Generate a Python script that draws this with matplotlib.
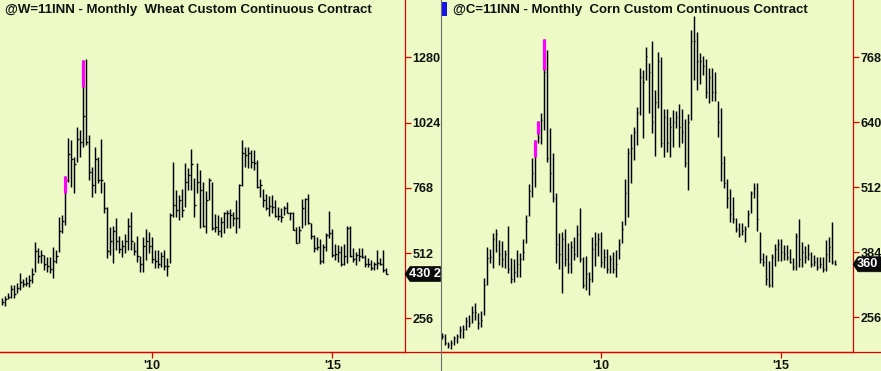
import matplotlib
matplotlib.use('Agg')
import matplotlib.pyplot as plt
import numpy as np
import pandas as pd
from matplotlib.patches import Polygon, Rectangle
from matplotlib.lines import Line2D
from matplotlib.transforms import IdentityTransform

plt.rcParams['font.family'] = ['Liberation Sans', 'DejaVu Sans']

# ---------------- data ----------------
wheat_title = "@W=11INN - Monthly  Wheat Custom Continuous Contract"
corn_title = "@C=11INN - Monthly  Corn Custom Continuous Contract"

wheat_start = '2005-11'
wheat_high = [334, 343, 354, 387, 387, 393, 433, 409, 419, 425, 452, 557, 531, 524, 504, 498, 498, 537, 524, 655,
              662, 815, 963, 956, 890, 1008, 995, 1270, 1273, 976, 851, 930, 890, 959, 792, 694, 616, 618, 649, 579,
              563, 587, 650, 674, 557, 579, 500, 576, 607, 596, 574, 524, 524, 517, 524, 492, 668, 868, 760, 740,
              762, 864, 845, 919, 806, 864, 838, 792, 757, 806, 792, 665, 662, 655, 672, 681, 684, 675, 720, 782,
              956, 930, 930, 917, 917, 877, 803, 762, 743, 736, 740, 720, 694, 688, 697, 711, 675, 675, 616, 620,
              723, 727, 744, 629, 583, 574, 566, 548, 590, 677, 608, 546, 544, 540, 548, 618, 618, 531, 517, 531,
              531, 505, 492, 485, 478, 524, 492, 524, 452]
wheat_low = [308, 304, 331, 335, 337, 354, 367, 378, 383, 378, 393, 439, 472, 472, 446, 439, 433, 413, 472, 517,
             590, 622, 792, 773, 747, 871, 890, 930, 936, 799, 733, 747, 786, 747, 668, 492, 504, 472, 524, 511,
             498, 511, 524, 524, 504, 478, 439, 439, 485, 511, 472, 452, 452, 459, 446, 422, 472, 655, 655, 642,
             655, 694, 760, 760, 655, 747, 609, 616, 592, 720, 603, 596, 583, 576, 590, 612, 612, 618, 592, 612,
             775, 851, 845, 845, 838, 766, 733, 694, 681, 658, 668, 655, 642, 635, 662, 668, 642, 603, 550, 550,
             609, 622, 626, 566, 517, 524, 468, 472, 520, 570, 498, 485, 478, 461, 465, 474, 495, 478, 465, 481,
             492, 459, 456, 446, 446, 448, 465, 439, 430]
wheat_close = [320, 330, 340, 372, 350, 375, 400, 390, 395, 405, 430, 520, 500, 505, 470, 460, 450, 480, 500, 600,
               640, 800, 900, 880, 860, 960, 950, 1050, 950, 830, 780, 880, 800, 800, 690, 520, 560, 600, 560, 530,
               540, 560, 620, 560, 520, 500, 470, 540, 560, 540, 490, 480, 470, 500, 460, 460, 660, 700, 680, 720,
               680, 790, 820, 860, 700, 790, 760, 620, 720, 799, 609, 616, 600, 635, 668, 668, 662, 649, 649, 779,
               904, 897, 904, 871, 867, 773, 779, 720, 688, 697, 694, 658, 658, 655, 688, 668, 668, 603, 553, 603,
               690, 723, 630, 579, 531, 535, 480, 537, 585, 590, 505, 510, 515, 470, 500, 610, 500, 490, 505, 500,
               495, 470, 470, 455, 470, 475, 470, 445, 430]
wheat_mark_months = ['2007-08', '2008-02']
wheat_mark_low = [747, 1165]
wheat_mark_high = [815, 1270]
wheat_last_label = "430 2"

corn_start = '2005-08'
corn_high = [224, 222, 206, 211, 219, 222, 238, 240, 256, 260, 278, 283, 264, 268, 332, 395, 391, 422, 429, 408,
             405, 388, 435, 372, 370, 389, 383, 409, 457, 518, 569, 605, 643, 658, 804, 783, 628, 579, 500, 422,
             424, 429, 401, 406, 413, 437, 470, 375, 376, 345, 414, 424, 422, 424, 391, 391, 378, 385, 388, 409,
             446, 528, 589, 617, 631, 670, 746, 743, 789, 756, 800, 704, 779, 769, 666, 666, 650, 664, 663, 676,
             666, 646, 656, 822, 850, 817, 777, 771, 764, 746, 746, 740, 681, 668, 573, 528, 508, 493, 451, 441,
             441, 435, 466, 505, 521, 521, 424, 383, 378, 367, 380, 400, 409, 409, 398, 398, 391, 372, 421, 449,
             403, 396, 400, 385, 378, 374, 375, 375, 408, 414, 444, 368]
corn_low = [213, 201, 194, 192, 201, 204, 214, 214, 230, 237, 244, 250, 232, 237, 260, 319, 362, 352, 385, 359,
            355, 352, 342, 324, 326, 334, 334, 368, 401, 455, 493, 512, 599, 598, 625, 562, 503, 483, 362, 350,
            303, 357, 343, 343, 368, 375, 365, 313, 309, 299, 326, 357, 376, 354, 352, 343, 342, 343, 334, 370,
            401, 437, 454, 521, 566, 595, 654, 608, 723, 658, 618, 573, 668, 592, 571, 582, 572, 592, 628, 591,
            600, 552, 506, 644, 723, 704, 715, 733, 687, 677, 681, 681, 610, 525, 510, 470, 444, 441, 424, 414,
            418, 404, 433, 462, 490, 426, 363, 357, 319, 316, 316, 357, 367, 367, 368, 368, 362, 349, 349, 355,
            355, 363, 368, 355, 357, 349, 352, 345, 347, 365, 361, 359]
corn_close = [218, 205, 200, 205, 215, 218, 230, 232, 248, 245, 265, 265, 245, 250, 320, 372, 375, 410, 420, 380,
              370, 380, 350, 330, 345, 360, 370, 385, 445, 505, 540, 580, 610, 645, 740, 570, 540, 490, 400, 380,
              410, 370, 360, 395, 380, 420, 370, 320, 340, 330, 390, 400, 410, 365, 375, 350, 370, 350, 360, 400,
              430, 500, 580, 590, 620, 660, 730, 720, 770, 740, 640, 680, 760, 600, 650, 600, 630, 640, 650, 630,
              620, 560, 640, 800, 800, 760, 760, 750, 700, 730, 700, 700, 640, 560, 520, 490, 460, 450, 430, 420,
              425, 430, 460, 500, 510, 450, 370, 365, 330, 320, 375, 390, 400, 385, 380, 375, 365, 355, 415, 370,
              385, 375, 380, 360, 365, 355, 360, 350, 380, 395, 365, 360]
corn_mark_months = ['2008-03', '2008-04', '2008-06']
corn_mark_low = [571, 617, 743]
corn_mark_high = [605, 643, 804]
corn_last_label = "360"

wheat_yticks = [256, 512, 768, 1024, 1280]
corn_yticks = [256, 384, 512, 640, 768]
xtick_years = [2010, 2015]
xtick_labels = ["'10", "'15"]

# ---------------- style ----------------
W, H = 881, 371
BG = '#EDFAC6'
RED = '#E00000'
TXT = '#121212'
LBL = 9.1


def month_index(periods):
    p = pd.PeriodIndex(periods, freq='M')
    return np.asarray((p.year - 2010) * 12 + (p.month - 1), dtype=float)


def series_months(start, n):
    return month_index(pd.period_range(start, periods=n, freq='M'))


fig = plt.figure(figsize=(W / 100, H / 100), dpi=100, facecolor=BG)

BOTTOM = 351.7


def add_ax(x0, x1):
    return fig.add_axes([x0 / W, 1 - BOTTOM / H, (x1 - x0) / W, BOTTOM / H])


def draw_panel(ax, start, hi, lo, cl, mmonths, mlo, mhi, xlim, ylim, yticks):
    ax.set_facecolor(BG)
    x = series_months(start, len(hi))
    ax.vlines(x, lo, hi, color='black', lw=1.05, zorder=3)
    ax.hlines(cl, x, x + 0.55, color='black', lw=1.0, zorder=3)
    mx = month_index(mmonths)
    ax.vlines(mx, mlo, mhi, color='#FF00FF', lw=2.3, zorder=4)
    ax.set_xlim(*xlim)
    ax.set_ylim(*ylim)
    for s in ['top', 'left']:
        ax.spines[s].set_visible(False)
    ax.spines['right'].set_color(RED)
    ax.spines['bottom'].set_color(RED)
    ax.spines['right'].set_linewidth(0.9)
    ax.spines['bottom'].set_linewidth(0.9)
    ax.yaxis.tick_right()
    ax.set_yticks(yticks)
    ax.set_yticklabels([str(v) for v in yticks])
    ax.tick_params(axis='y', direction='out', length=4, width=0.9, color=RED, pad=1.5,
                   labelsize=LBL, labelcolor=TXT)
    xt = [(y - 2010) * 12 for y in xtick_years]
    ax.set_xticks(xt)
    ax.set_xticklabels(xtick_labels)
    ax.tick_params(axis='x', direction='out', length=4, width=0.9, color=RED, pad=2,
                   labelsize=LBL, labelcolor=TXT)
    for t in ax.get_xticklabels() + ax.get_yticklabels():
        t.set_fontweight('bold')
    return x


axL = add_ax(0, 405)
draw_panel(axL, wheat_start, wheat_high, wheat_low, wheat_close,
           wheat_mark_months, wheat_mark_low, wheat_mark_high,
           (-50.77, 84.23), (125.0, 1505.7), wheat_yticks)

axR = add_ax(441, 853)
draw_panel(axR, corn_start, corn_high, corn_low, corn_close,
           corn_mark_months, corn_mark_low, corn_mark_high,
           (-53.23, 84.1), (187.6, 881.0), corn_yticks)

fig.canvas.draw()


def px(x, y):
    return (x, H - y)


for (a, b) in [(0, 440), (441, 881)]:
    fig.add_artist(Line2D([a, b], [H - BOTTOM, H - BOTTOM], transform=IdentityTransform(),
                          color=RED, lw=0.9))


def last_label(ax, value, text, x_left, x_right):
    yd = ax.transData.transform((0, value))[1]
    h = 7.5
    pts = [(x_left, yd), (x_left + 5, yd + h), (x_right, yd + h), (x_right, yd - h), (x_left + 5, yd - h)]
    poly = Polygon(pts, closed=True, transform=IdentityTransform(), facecolor='#0a0a0a',
                   edgecolor='#0a0a0a', lw=0.5, zorder=10)
    fig.add_artist(poly)
    fig.text((x_left + 4) / W, yd / H, text, color='white', fontsize=LBL, fontweight='bold',
             va='center', ha='left', zorder=11)


last_label(axL, wheat_close[-1], wheat_last_label, 405, 440.5)
last_label(axR, corn_close[-1], corn_last_label, 853, 881)

fig.add_artist(Line2D([440.5, 440.5], [0, H], transform=IdentityTransform(), color='#6e6e6e', lw=0.8))

fig.add_artist(Rectangle(px(441.5, 16), 5, 14, transform=IdentityTransform(), facecolor='#1414E6',
                         edgecolor='none', zorder=10))

fig.text(5 / W, 1 - 9.5 / H, wheat_title, fontsize=9.5, fontweight='bold', color=TXT,
         va='center', ha='left')
fig.text(453 / W, 1 - 9.5 / H, corn_title, fontsize=9.5, fontweight='bold', color=TXT,
         va='center', ha='left')

fig.savefig('out.png', dpi=100, facecolor=BG)
